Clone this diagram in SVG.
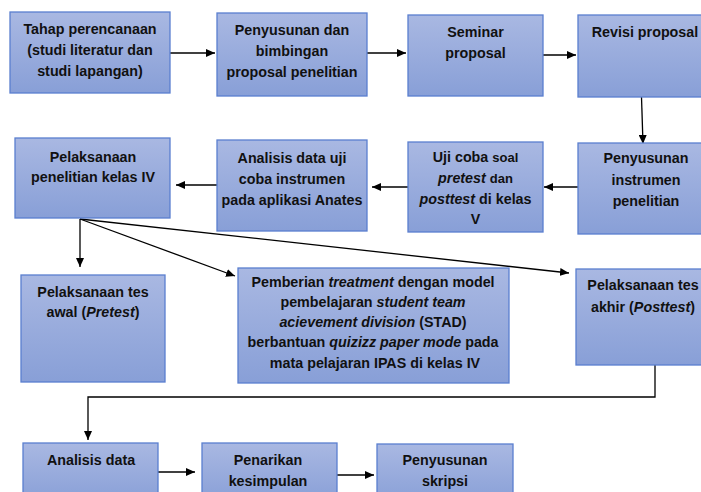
<svg xmlns="http://www.w3.org/2000/svg" width="701" height="492" viewBox="0 0 701 492">
<defs>
<linearGradient id="g" x1="0" y1="0" x2="0" y2="1">
<stop offset="0" stop-color="#a9b8e2"/>
<stop offset="1" stop-color="#889fd7"/>
</linearGradient>
<marker id="ah" markerWidth="9" markerHeight="8" refX="9" refY="4" orient="auto" markerUnits="userSpaceOnUse">
<path d="M0,0 L9,4 L0,8 Z" fill="#000"/>
</marker>
<style>
.box{fill:url(#g);stroke:#5a7fcf;stroke-width:1.3}
text{font-family:"Liberation Sans",Arial,sans-serif;font-weight:bold;font-size:14.3px;fill:#111;text-anchor:middle}
.c{fill:none;stroke:#000;stroke-width:1.3}
.a{marker-end:url(#ah)}
.sm{font-size:13px}
.i{font-style:italic}
</style>
</defs>
<rect width="701" height="492" fill="#fff"/>
<g id="connectors">
<line class="c a" x1="170" y1="53" x2="215" y2="53"/>
<line class="c a" x1="367" y1="53" x2="406" y2="53"/>
<line class="c a" x1="543" y1="55" x2="576" y2="55"/>
<line class="c a" x1="641.5" y1="97" x2="643" y2="144"/>
<line class="c a" x1="578" y1="187" x2="544" y2="187"/>
<line class="c a" x1="408" y1="187" x2="372" y2="187"/>
<line class="c a" x1="217" y1="185" x2="176" y2="185"/>
<line class="c a" x1="80" y1="219" x2="80" y2="267"/>
<line class="c a" x1="80" y1="219" x2="235" y2="276"/>
<line class="c a" x1="80" y1="219" x2="569" y2="273"/>
<polyline class="c a" points="655,365 655,397 88,397 88,440"/>
<line class="c a" x1="158" y1="472" x2="195" y2="472"/>
<line class="c a" x1="337" y1="475" x2="374" y2="475"/>
</g>
<g id="n1"><rect class="box" x="10" y="12" width="160" height="81"/>
<text x="90" y="34">Tahap perencanaan</text><text x="90" y="55">(studi literatur dan</text><text x="90" y="76">studi lapangan)</text></g>
<g id="n2"><rect class="box" x="217" y="13" width="150" height="83"/>
<text x="292" y="35">Penyusunan dan</text><text x="292" y="56">bimbingan</text><text x="292" y="77">proposal penelitian</text></g>
<g id="n3"><rect class="box" x="408" y="15" width="135" height="81"/>
<text x="475.5" y="37">Seminar</text><text x="475.5" y="58">proposal</text></g>
<g id="n4"><rect class="box" x="578" y="15" width="134" height="82"/>
<text x="645" y="37">Revisi proposal</text></g>
<g id="n5"><rect class="box" x="578" y="143" width="134" height="91"/>
<text x="646" y="163">Penyusunan</text><text x="646" y="185">instrumen</text><text x="646" y="206">penelitian</text></g>
<g id="n6"><rect class="box" x="408" y="142" width="135" height="90"/>
<text x="475.5" y="162">Uji coba <tspan class="sm">soal</tspan></text>
<text x="475.5" y="183"><tspan class="i">pretest</tspan> <tspan class="sm">dan</tspan></text>
<text x="475.5" y="204"><tspan class="i">posttest</tspan> di kelas</text>
<text x="475.5" y="224">V</text></g>
<g id="n7"><rect class="box" x="217" y="140" width="150" height="91"/>
<text x="292" y="163">Analisis data uji</text><text x="292" y="184">coba instrumen</text><text x="292" y="205">pada aplikasi Anates</text></g>
<g id="n8"><rect class="box" x="15" y="138" width="155" height="80"/>
<text x="93" y="162">Pelaksanaan</text><text x="93" y="182">penelitian kelas IV</text></g>
<g id="n9"><rect class="box" x="21" y="275" width="144" height="107"/>
<text x="93" y="297">Pelaksanaan tes</text><text x="93" y="317">awal (<tspan class="i">Pretest</tspan>)</text></g>
<g id="n10"><rect class="box" x="238" y="268" width="271" height="115"/>
<text x="373" y="287">Pemberian <tspan class="i">treatment</tspan> dengan model</text>
<text x="373" y="307">pembelajaran <tspan class="i">student team</tspan></text>
<text x="373" y="327"><tspan class="i">acievement division</tspan> (STAD)</text>
<text x="373" y="347">berbantuan <tspan class="i">quizizz paper mode</tspan> pada</text>
<text x="375" y="368">mata pelajaran IPAS di kelas IV</text></g>
<g id="n11"><rect class="box" x="576" y="269" width="136" height="96"/>
<text x="643" y="290">Pelaksanaan tes</text><text x="643" y="312">akhir (<tspan class="i">Posttest</tspan>)</text></g>
<g id="n12"><rect class="box" x="23" y="443" width="135" height="60"/>
<text x="91" y="465">Analisis data</text></g>
<g id="n13"><rect class="box" x="202" y="443" width="135" height="60"/>
<text x="268" y="465">Penarikan</text><text x="268" y="486">kesimpulan</text></g>
<g id="n14"><rect class="box" x="377" y="444" width="136" height="60"/>
<text x="445" y="465">Penyusunan</text><text x="445" y="486">skripsi</text></g>
</svg>
